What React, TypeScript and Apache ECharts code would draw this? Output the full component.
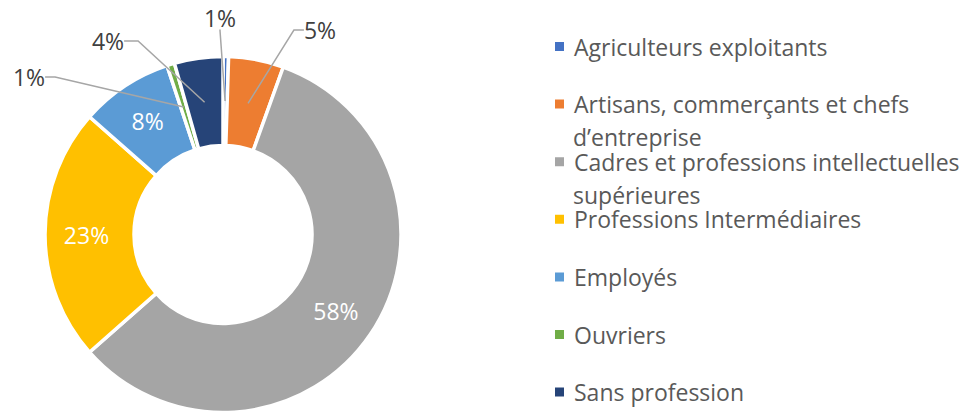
import React, { useEffect, useRef } from "react";
import * as echarts from "echarts";

// ---- data ----
const categories: string[] = [
  "Agriculteurs exploitants",
  "Artisans, commerçants et chefs d’entreprise",
  "Cadres et professions intellectuelles supérieures",
  "Professions Intermédiaires",
  "Employés",
  "Ouvriers",
  "Sans profession",
];
const shares: number[] = [0.5, 5.0, 58.0, 23.0, 8.4, 0.7, 4.4];
const colors: string[] = ["#4472C4", "#ED7D31", "#A5A5A5", "#FFC000", "#5B9BD5", "#70AD47", "#264478"];
const legendLabels: string[] = [
  "Agriculteurs exploitants",
  "Artisans, commerçants et chefs\nd’entreprise",
  "Cadres et professions intellectuelles\nsupérieures",
  "Professions Intermédiaires",
  "Employés",
  "Ouvriers",
  "Sans profession",
];
const insideLabelled: boolean[] = [false, false, true, true, true, false, false];

// ---- layout / style (not data) ----
const FONT = "Open Sans";
const CENTER: [number, number] = [223, 234.5];
const R_OUT = 178;
const R_IN = 89;
const R_MID = (R_OUT + R_IN) / 2;
const LABEL_SIZE = 23;
// outside label placement (label centre), padding and second leader segment
const outsideLabels: Record<number, { x: number; y: number; pad: number[]; len2: number }> = {
  0: { x: 220, y: 18, pad: [10, 0, 10, 0], len2: 1 },
  1: { x: 320, y: 30, pad: [0, 8, 0, 8], len2: 10 },
  5: { x: 29, y: 77, pad: [0, 9, 0, 9], len2: 10 },
  6: { x: 108, y: 41, pad: [0, 10, 0, 10], len2: 14 },
};
const LEGEND_LEFT = 553;
const LEGEND_ICON = 11;
const LEGEND_TEXT_X = 573;
const LEGEND_FIRST = 46.5;
const LEGEND_PITCH = 57.6;
const LEGEND_WRAP = 33;
const LEGEND_LINE = 24;
const LEGEND_SIZE = 23;
const LEGEND_COLOR = "#595959";

export default function App() {
  const ref = useRef<HTMLDivElement>(null);
  useEffect(() => {
    if (!ref.current) return;
    const chart = echarts.init(ref.current, undefined, { renderer: "svg" });
    const pct = (p: any) => Math.round(p.value) + "%";
    const textPad = LEGEND_TEXT_X - (LEGEND_LEFT + LEGEND_ICON + 5);

    const legends: any[] = [];
    const continuation: any[] = [];
    categories.forEach((name, i) => {
      const lines = legendLabels[i].split("\n");
      const c = LEGEND_FIRST + i * LEGEND_PITCH;
      legends.push({
        show: true,
        orient: "vertical",
        left: LEGEND_LEFT,
        top: c - LEGEND_LINE / 2,
        padding: 0,
        itemWidth: LEGEND_ICON,
        itemHeight: LEGEND_ICON,
        icon: "rect",
        selectedMode: false,
        data: [{ name, itemStyle: { color: colors[i] } }],
        formatter: () => "{t|" + lines[0] + "}",
        textStyle: {
          fontFamily: FONT,
          fontSize: LEGEND_SIZE,
          color: LEGEND_COLOR,
          lineHeight: LEGEND_LINE,
          rich: {
            t: {
              fontFamily: FONT,
              fontSize: LEGEND_SIZE,
              color: LEGEND_COLOR,
              lineHeight: LEGEND_LINE,
              padding: [0, 0, 0, textPad],
            },
          },
        },
      });
      lines.slice(1).forEach((ln, k) => {
        continuation.push({
          type: "text",
          x: LEGEND_TEXT_X,
          y: c + (k + 1) * LEGEND_WRAP,
          silent: true,
          style: {
            text: ln,
            fill: LEGEND_COLOR,
            font: `${LEGEND_SIZE}px "${FONT}"`,
            lineHeight: LEGEND_LINE,
            textAlign: "left",
            textVerticalAlign: "middle",
            verticalAlign: "middle",
          },
        });
      });
    });

    chart.setOption({
      animation: false,
      backgroundColor: "#ffffff",
      legend: legends,
      graphic: continuation,
      series: [
        {
          type: "pie",
          z: 2,
          center: CENTER,
          radius: [R_IN, R_OUT],
          startAngle: 90,
          clockwise: true,
          avoidLabelOverlap: false,
          silent: true,
          itemStyle: { borderColor: "#ffffff", borderWidth: 3.5 },
          label: {
            show: true,
            position: "inside",
            color: "#ffffff",
            fontFamily: FONT,
            fontSize: LABEL_SIZE,
            formatter: pct,
          },
          labelLine: { show: false },
          emphasis: { disabled: true },
          data: categories.map((name, i) => ({
            name,
            value: shares[i],
            itemStyle: { color: colors[i] },
            label: { show: insideLabelled[i] },
          })),
        },
        {
          type: "pie",
          z: 6,
          center: CENTER,
          radius: [0, R_MID],
          startAngle: 90,
          clockwise: true,
          avoidLabelOverlap: false,
          silent: true,
          itemStyle: { color: "rgba(0,0,0,0)", borderWidth: 0 },
          label: {
            show: false,
            position: "outside",
            color: "#404040",
            fontFamily: FONT,
            fontSize: LABEL_SIZE,
            formatter: pct,
          },
          labelLine: {
            show: false,
            length: 10,
            length2: 10,
            lineStyle: { color: "#A6A6A6", width: 1.5 },
          },
          labelLayout: (p: any) => {
            const o = outsideLabels[p.dataIndex];
            if (!o) return {};
            return { x: o.x, y: o.y, align: "center", verticalAlign: "middle" };
          },
          emphasis: { disabled: true },
          data: categories.map((name, i) => {
            const o = outsideLabels[i];
            return {
              name,
              value: shares[i],
              label: o ? { show: true, padding: o.pad } : { show: false },
              labelLine: o ? { show: true, length2: o.len2 } : { show: false },
            };
          }),
        },
      ],
    });
    return () => chart.dispose();
  }, []);
  return (
    <div
      ref={ref}
      style={{ position: "fixed", left: 0, top: 0, width: 970, height: 411, background: "#fff" }}
    />
  );
}
